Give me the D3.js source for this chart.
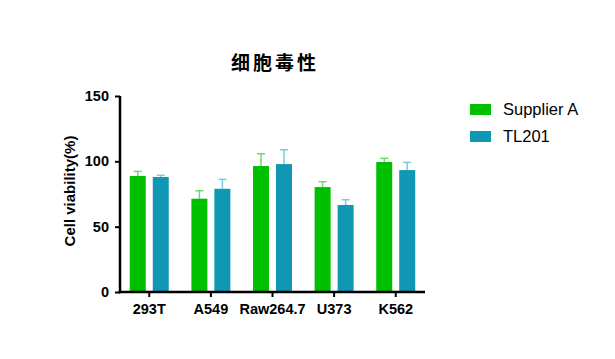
<!DOCTYPE html>
<html><head><meta charset="utf-8">
<script src="https://cdn.jsdelivr.net/npm/d3@7"></script>
<style>body{margin:0;background:#fff}svg{display:block}</style>
</head><body>
<script>
const categories = ["293T","A549","Raw264.7","U373","K562"];
const seriesNames = ["Supplier A","TL201"];
const supplierA = [88.8, 71.4, 96.4, 80.3, 99.5];
const supplierAErr = [3.5, 6.1, 9.4, 4.1, 2.8];
const tl201 = [88.0, 79.0, 97.9, 66.6, 93.3];
const tl201Err = [1.3, 7.2, 11.0, 4.0, 5.9];
const yTicks = [0, 50, 100, 150];

const colors = ["#00c000", "#1097b3"];
const errColors = ["#6ed86e", "#7acbdd"];

const W = 615, H = 359;
const svg = d3.select("body").append("svg").attr("width", W).attr("height", H);
const m = {left: 120, right: 190, top: 96, bottom: 67};

const x = d3.scaleBand().domain(categories).range([m.left, 425]).paddingInner(0.25).paddingOuter(0.1);
const y = d3.scaleLinear().domain([0, 150]).range([292, 96]);

const series = [supplierA, tl201];
const errs = [supplierAErr, tl201Err];
const barW = 16, gap = 7;

series.forEach((vals, si) => {
  const g = svg.append("g");
  categories.forEach((c, i) => {
    const cx = x(c) + x.bandwidth() / 2;
    const bx = si === 0 ? cx - gap / 2 - barW : cx + gap / 2;
    const mid = bx + barW / 2;
    g.append("line").attr("x1", mid).attr("x2", mid)
      .attr("y1", y(vals[i])).attr("y2", y(vals[i] + errs[si][i]))
      .attr("stroke", errColors[si]).attr("stroke-width", 1.5);
    g.append("line").attr("x1", mid - 4).attr("x2", mid + 4)
      .attr("y1", y(vals[i] + errs[si][i])).attr("y2", y(vals[i] + errs[si][i]))
      .attr("stroke", errColors[si]).attr("stroke-width", 1.5);
    g.append("rect").attr("x", bx).attr("y", y(vals[i]))
      .attr("width", barW).attr("height", y(0) - y(vals[i]))
      .attr("fill", colors[si]);
  });
});

const yAxis = svg.append("g").attr("transform", `translate(${m.left},0)`)
  .call(d3.axisLeft(y).tickValues(yTicks).tickSize(5).tickSizeOuter(0));
const xAxis = svg.append("g").attr("transform", `translate(0,${y(0)})`)
  .call(d3.axisBottom(x).tickSize(5).tickSizeOuter(0));
[yAxis, xAxis].forEach(a => {
  a.select(".domain").attr("stroke", "#000").attr("stroke-width", 2.5);
  a.selectAll(".tick line").attr("stroke", "#000").attr("stroke-width", 2);
  a.selectAll("text").attr("fill", "#000")
    .style("font-family", "Arial, 'Liberation Sans', sans-serif")
    .style("font-weight", "bold").style("font-size", "14.5px");
});
yAxis.select(".domain").attr("d", `M0,${y(150)}V${y(0) + 1.25}`);
xAxis.select(".domain").attr("d", `M${m.left - 1.25},0H425`);
yAxis.selectAll("text").attr("x", -11);
xAxis.selectAll("text").attr("y", 12);

svg.append("text").attr("x", 275).attr("y", 70).attr("text-anchor", "middle")
  .style("font-family", "'Noto Sans CJK SC', sans-serif").style("font-weight", "bold")
  .style("font-size", "19px").style("letter-spacing", "3px").text("细胞毒性");

svg.append("text").attr("transform", `translate(75,${(y(0) + y(150)) / 2 - 3}) rotate(-90)`)
  .attr("text-anchor", "middle")
  .style("font-family", "Arial, 'Liberation Sans', sans-serif").style("font-weight", "bold")
  .style("font-size", "15px").text("Cell viability(%)");

const leg = svg.append("g");
seriesNames.forEach((n, i) => {
  leg.append("rect").attr("x", 470).attr("y", 104 + i * 27).attr("width", 21).attr("height", 11)
    .attr("fill", colors[i]);
  leg.append("text").attr("x", 503).attr("y", 115 + i * 27)
    .style("font-family", "Arial, 'Liberation Sans', sans-serif")
    .style("font-size", "16.5px").attr("fill", "#000").text(n);
});
</script>
</body></html>
